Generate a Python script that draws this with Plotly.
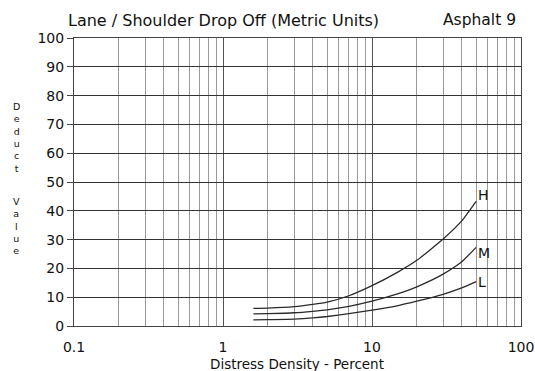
import math
import plotly.graph_objects as go

density = [1.6, 2, 3, 4, 5, 7, 10, 15, 20, 30, 40, 50]
high = [6.1, 6.2, 6.7, 7.5, 8.3, 10.5, 14.0, 18.8, 22.8, 30.2, 36.5, 43.3]
medium = [4.2, 4.3, 4.6, 5.1, 5.6, 6.8, 8.6, 11.2, 13.6, 18.0, 22.3, 27.3]
low = [2.1, 2.2, 2.4, 2.8, 3.3, 4.3, 5.5, 7.1, 8.6, 11.0, 13.2, 15.4]
series = [("H", high, 6), ("M", medium, -6), ("L", low, 0)]

x_ticks = [0.1, 1, 10, 100]
x_ticktext = ["0.1", "1", "10", "100"]
y_ticks = list(range(0, 101, 10))
y_words = [("Deduct", 137), ("Value", 226)]

FONT = "DejaVu Sans, Arial, sans-serif"
INK = "#111111"

fig = go.Figure()
for name, vals, yshift in series:
    fig.add_trace(go.Scatter(x=density, y=vals, mode="lines", name=name,
                             line=dict(color="#2a2a2a", width=1.3, shape="spline", smoothing=0.5),
                             showlegend=False, hoverinfo="skip"))
    fig.add_annotation(x=math.log10(density[-1]), y=vals[-1], xref="x", yref="y",
                       text=name, showarrow=False,
                       xanchor="left", yanchor="middle", xshift=0, yshift=yshift,
                       font=dict(family=FONT, size=14, color=INK))

L, R, T, B = 74, 14, 38, 45
W, H = 535, 371

def px(x):
    return (x - L) / (W - L - R)

def py(y):
    return (H - y - B) / (H - T - B)

axis_line = "#444444"
fig.update_layout(
    width=W, height=H,
    margin=dict(l=L, r=R, t=T, b=B),
    paper_bgcolor="white", plot_bgcolor="white",
    font=dict(family=FONT, size=13, color=INK),
    xaxis=dict(type="log", range=[-1, 2], tickvals=x_ticks, ticktext=x_ticktext,
               automargin=False,
               showgrid=True, gridcolor="#555555", gridwidth=1,
               minor=dict(dtick="D1", showgrid=True, gridcolor="#999999", gridwidth=1,
                          ticks=""),
               ticks="", ticklabelstandoff=8,
               showline=True, linecolor=axis_line, mirror=True, zeroline=False,
               tickfont=dict(family=FONT, size=14, color=INK)),
    yaxis=dict(range=[0, 100], tickvals=y_ticks, automargin=False,
               showgrid=True, gridcolor="#333333", gridwidth=1,
               ticks="outside", ticklen=6, tickcolor="#444444",
               showline=True, linecolor=axis_line, mirror=True, zeroline=False,
               tickfont=dict(family=FONT, size=14, color=INK)),
)

# x-axis title
fig.add_annotation(x=px(297), y=py(364), xref="paper", yref="paper",
                   text="Distress Density - Percent", showarrow=False,
                   xanchor="center", yanchor="middle", borderpad=0,
                   font=dict(family=FONT, size=13.5, color=INK))

# Title texts
fig.add_annotation(x=px(223), y=py(20), xref="paper", yref="paper",
                   text="Lane / Shoulder Drop Off (Metric Units)",
                   showarrow=False, xanchor="center", yanchor="middle",
                   font=dict(family=FONT, size=16, color=INK))
fig.add_annotation(x=px(518), y=py(20), xref="paper", yref="paper", text="Asphalt 9",
                   showarrow=False, xanchor="right", yanchor="middle",
                   font=dict(family=FONT, size=15.5, color=INK))

# Vertical stacked y-axis label (one letter per line)
for word, wy in y_words:
    fig.add_annotation(x=px(16), y=py(wy), xref="paper", yref="paper",
                       text="<br>".join(word), showarrow=False,
                       xanchor="center", yanchor="middle", align="center",
                       font=dict(family=FONT, size=9.5, color=INK))

fig.write_html("out.html")
